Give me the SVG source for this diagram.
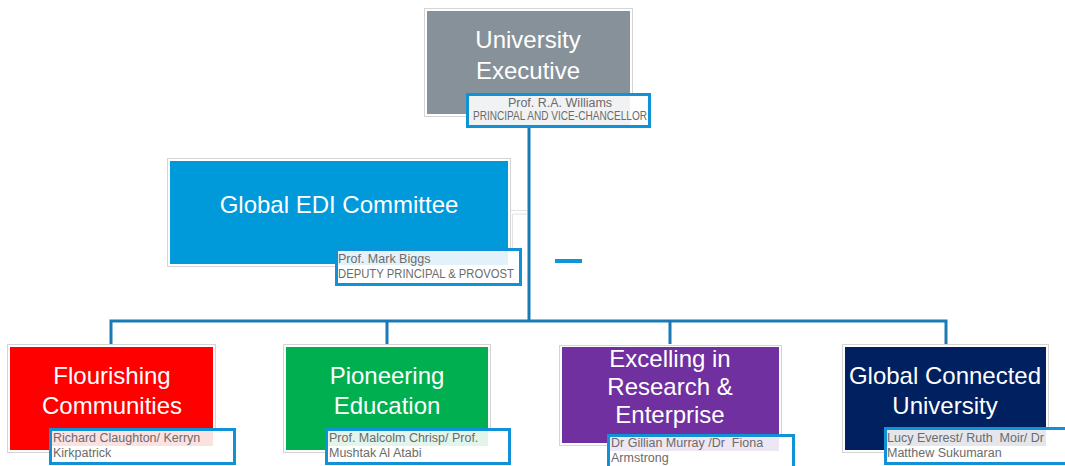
<svg xmlns="http://www.w3.org/2000/svg" width="1065" height="466" viewBox="0 0 1065 466">
<style>
.outer{fill:#fff;stroke:#d4d4d4;stroke-width:1}
.title{font-family:"Liberation Sans",Arial,sans-serif;font-size:24px;fill:#fff;text-anchor:middle}
.lbl{fill:#fff;stroke:#1192d6;stroke-width:3}
.lt{font-family:"Liberation Sans",Arial,sans-serif;font-size:12.5px;fill:#6b6b6b;white-space:pre}
.conn{fill:none;stroke:#1a7ab5;stroke-width:3}
.faint{fill:none;stroke:#e2e2e2;stroke-width:1}
</style>
<rect width="1065" height="466" fill="#fff"/>
<g id="connectors">
<path class="conn" d="M529 128V321M111 344V321H946V344M387 321V344M670 321V344"/>
<path class="faint" d="M510 210.5H527M512.5 214H527M512.5 214V250"/>
</g>
<g id="node-exec">
<rect class="outer" x="424.5" y="8.5" width="208" height="108"/>
<rect x="427" y="11" width="203" height="103" fill="#87919a"/>
<text class="title" x="528" y="48" font-size="25">University</text>
<text class="title" x="528" y="79" font-size="25">Executive</text>
<rect class="lbl" x="467.5" y="94.5" width="182" height="32"/>
<rect x="469" y="96" width="161" height="29" fill="#f1f2f3"/>
<text class="lt" x="560" y="107" font-size="11.5" text-anchor="middle">Prof. R.A. Williams</text>
<text class="lt" x="560" y="120" font-size="11.5" text-anchor="middle" textLength="174" lengthAdjust="spacingAndGlyphs">PRINCIPAL AND VICE-CHANCELLOR</text>
</g>
<g id="node-edi">
<rect class="outer" x="167.5" y="158.5" width="343" height="108"/>
<rect x="170" y="161" width="338" height="103" fill="#0099da"/>
<text class="title" x="339" y="213" font-size="23">Global EDI Committee</text>
<rect class="lbl" x="336.5" y="249.5" width="184" height="35"/>
<rect x="338" y="251" width="170" height="14" fill="#e3f2fa"/>
<text class="lt" x="338" y="263">Prof. Mark Biggs</text>
<text class="lt" x="338" y="278" textLength="176" lengthAdjust="spacingAndGlyphs">DEPUTY PRINCIPAL &amp; PROVOST</text>
</g>
<rect id="dash" x="555" y="259" width="27" height="4" fill="#0f95d8"/>
<g id="node-flourishing">
<rect class="outer" x="7.5" y="344.5" width="208" height="108"/>
<rect x="10" y="347" width="203" height="103" fill="#ff0000"/>
<text class="title" x="112" y="384">Flourishing</text>
<text class="title" x="112" y="414">Communities</text>
<rect class="lbl" x="50.5" y="429.5" width="184" height="34"/>
<rect x="52" y="431" width="161" height="15" fill="#fce1e1"/>
<text class="lt" x="53" y="442">Richard Claughton/ Kerryn</text>
<text class="lt" x="53" y="457">Kirkpatrick</text>
</g>
<g id="node-pioneering">
<rect class="outer" x="283.5" y="344.5" width="207" height="108"/>
<rect x="286" y="347" width="202" height="103" fill="#00b050"/>
<text class="title" x="387" y="384">Pioneering</text>
<text class="title" x="387" y="414">Education</text>
<rect class="lbl" x="326.5" y="429.5" width="183" height="34"/>
<rect x="328" y="431" width="160" height="15" fill="#e2f5ea"/>
<text class="lt" x="329" y="442">Prof. Malcolm Chrisp/ Prof.</text>
<text class="lt" x="329" y="457">Mushtak Al Atabi</text>
</g>
<g id="node-excelling">
<rect class="outer" x="559.5" y="345.5" width="222" height="100"/>
<rect x="562" y="347" width="217" height="96" fill="#7030a0"/>
<text class="title" x="670" y="367">Excelling in</text>
<text class="title" x="670" y="395">Research &amp;</text>
<text class="title" x="670" y="423">Enterprise</text>
<rect class="lbl" x="608.5" y="435.5" width="185" height="40"/>
<rect x="610" y="437" width="169" height="14" fill="#ede6f3"/>
<text class="lt" x="611" y="447">Dr Gillian Murray /Dr  Fiona</text>
<text class="lt" x="611" y="462">Armstrong</text>
</g>
<g id="node-global">
<rect class="outer" x="842.5" y="344.5" width="206" height="108"/>
<rect x="845" y="347" width="201" height="103" fill="#002060"/>
<text class="title" x="945" y="384" font-size="23">Global Connected</text>
<text class="title" x="945" y="414">University</text>
<rect class="lbl" x="885.5" y="428.5" width="190" height="35"/>
<rect x="887" y="430" width="159" height="16" fill="#e4e6ec"/>
<text class="lt" x="887" y="442">Lucy Everest/ Ruth  Moir/ Dr</text>
<text class="lt" x="887" y="457">Matthew Sukumaran</text>
</g>
</svg>
